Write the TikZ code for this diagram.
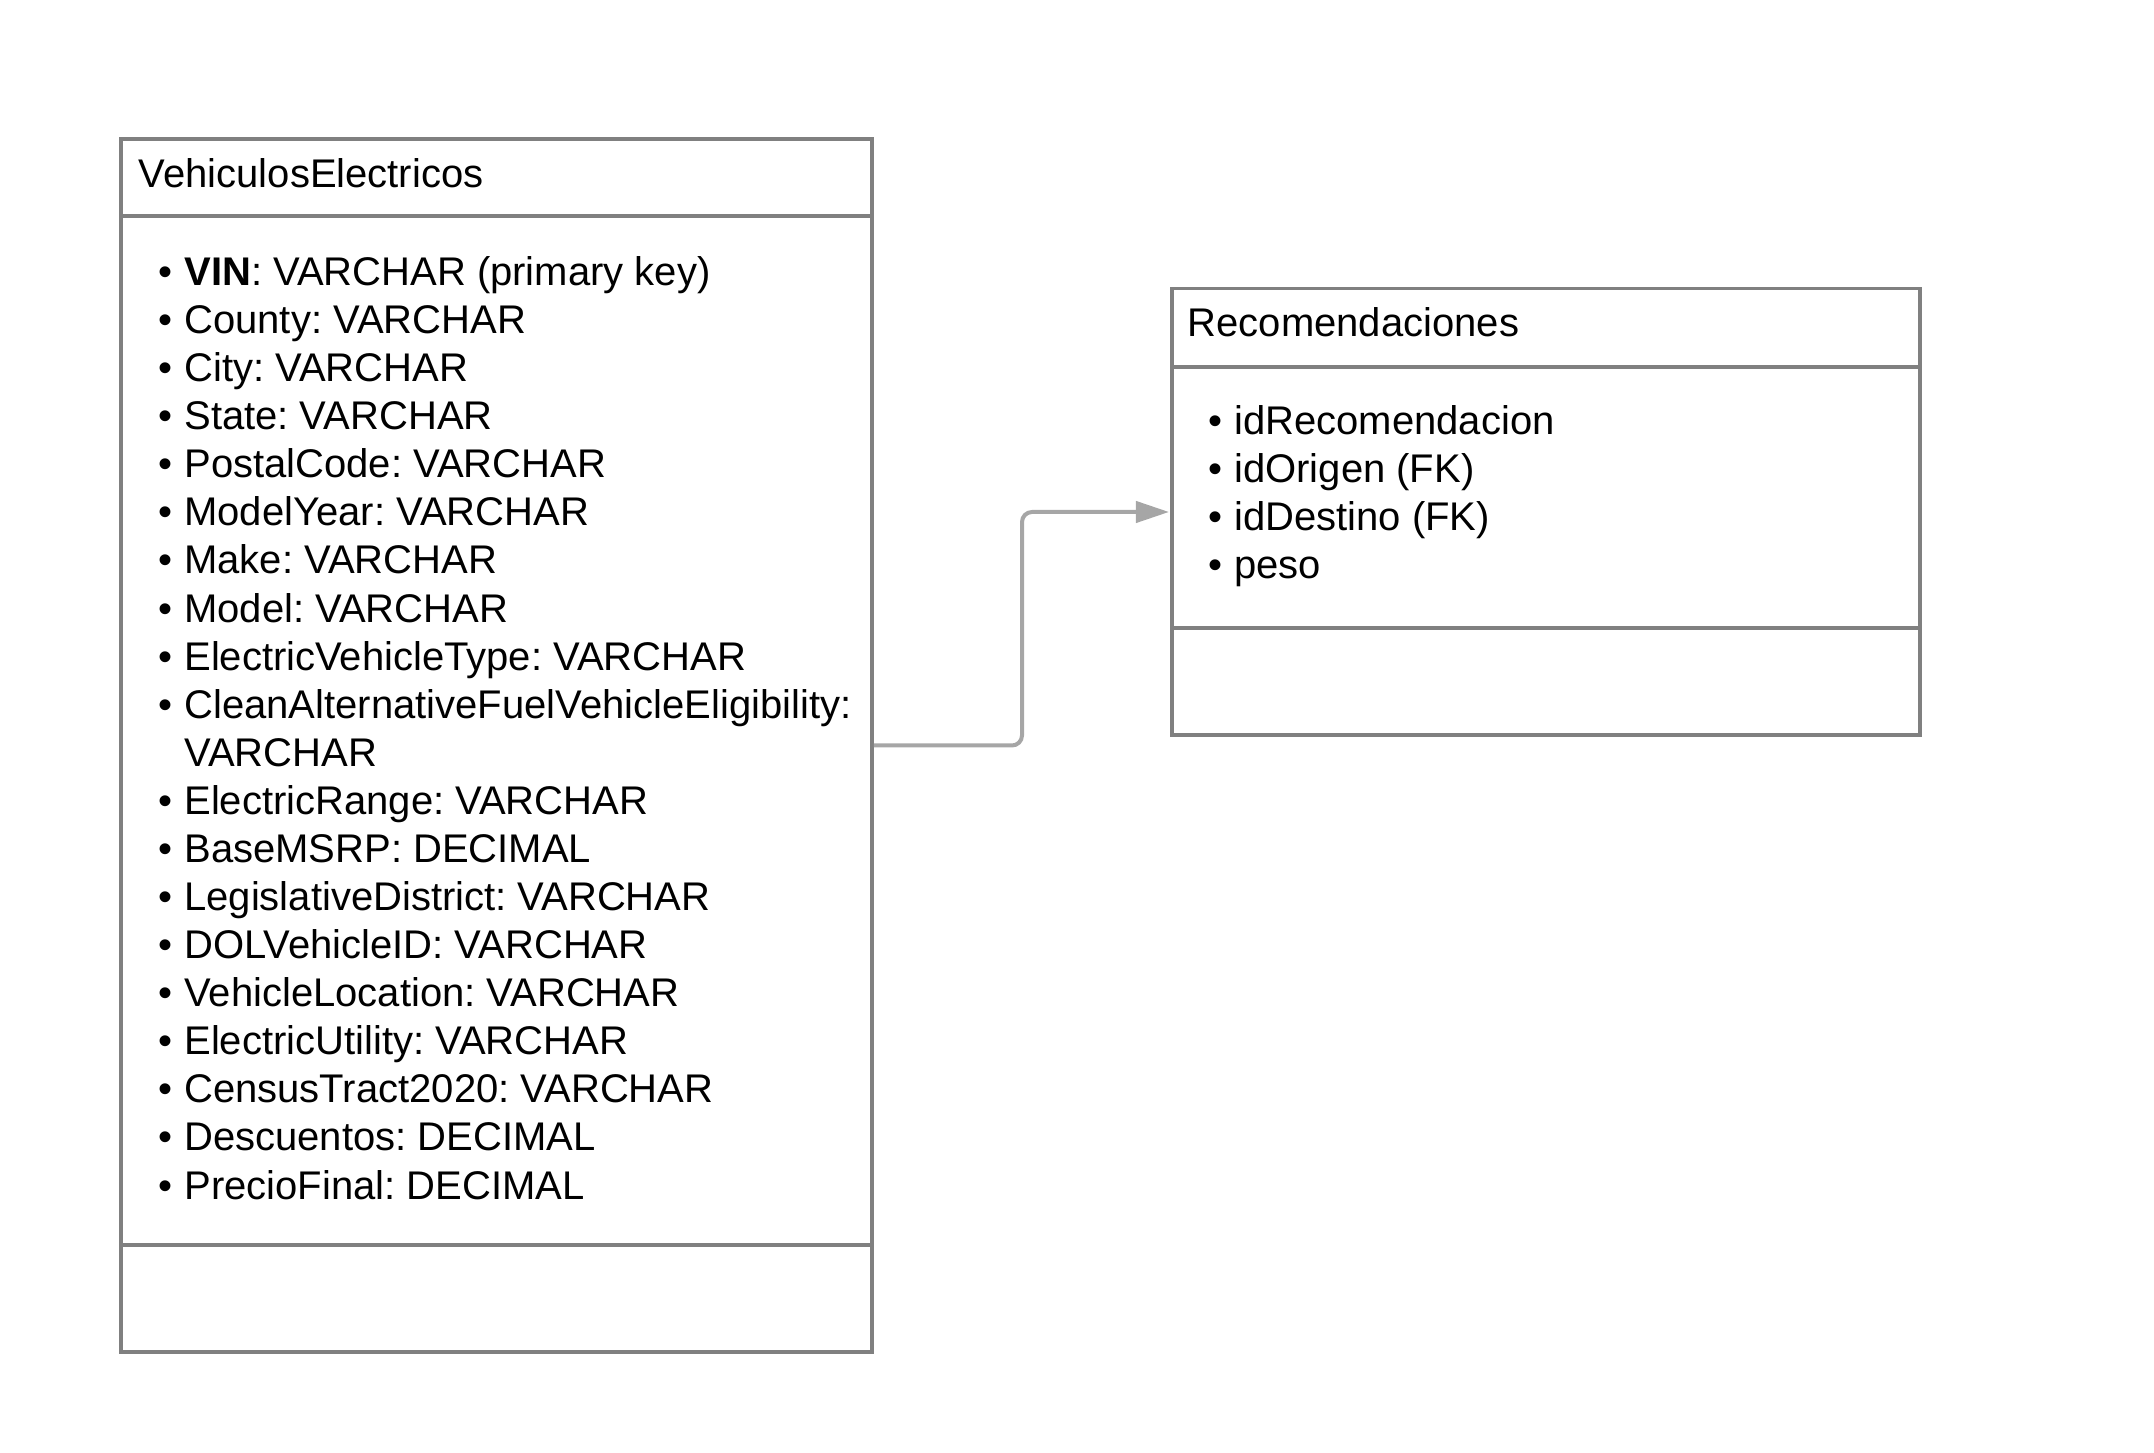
\documentclass[tikz,border=0pt]{standalone}
\usepackage{fontspec}
\setmainfont{Liberation Sans}
\usetikzlibrary{arrows.meta}
\frenchspacing
\def\pxu{0.25pt}
\definecolor{boxgray}{HTML}{808080}
\definecolor{conngray}{HTML}{A6A6A6}
\tikzset{
  tablebox/.style={draw=boxgray, line width=0.9pt, inner sep=0pt, fill=white},
  divider/.style={draw=boxgray, line width=0.9pt},
  titletext/.style={anchor=base west, inner sep=0pt, font=\fontsize{10}{12.02}\selectfont},
  itemtext/.style={anchor=base west, inner sep=0pt, font=\fontsize{10}{12.02}\selectfont},
  conn/.style={draw=conngray, line width=1pt, rounded corners=2.5pt,
    -{Triangle[length=8.3pt,width=5.3pt,fill=conngray]}}
}
\begin{document}
\begin{tikzpicture}[x=\pxu, y=-\pxu]
\useasboundingbox (0,0) rectangle (2154,1453);
% left table
\node[tablebox, minimum width=751*\pxu, minimum height=1213*\pxu] (ve) at (496.5,745.5) {};
\draw[divider] (121,216) -- (872,216);
\draw[divider] (121,1245) -- (872,1245);
\node[titletext] (vetitle) at (138,188) {VehiculosElectricos};
\node[itemtext] (veitems) at (158,285.5) {%
\begin{tabular}[t]{@{}l@{\hspace{2.9pt}}l@{}}
• & \textbf{VIN}: VARCHAR (primary key)\\
• & County: VARCHAR\\
• & City: VARCHAR\\
• & State: VARCHAR\\
• & PostalCode: VARCHAR\\
• & ModelYear: VARCHAR\\
• & Make: VARCHAR\\
• & Model: VARCHAR\\
• & ElectricVehicleType: VARCHAR\\
• & CleanAlternativeFuelVehicleEligibility:\\
  & VARCHAR\\
• & ElectricRange: VARCHAR\\
• & BaseMSRP: DECIMAL\\
• & LegislativeDistrict: VARCHAR\\
• & DOLVehicleID: VARCHAR\\
• & VehicleLocation: VARCHAR\\
• & ElectricUtility: VARCHAR\\
• & CensusTract2020: VARCHAR\\
• & Descuentos: DECIMAL\\
• & PrecioFinal: DECIMAL
\end{tabular}};
% right table
\node[tablebox, minimum width=748*\pxu, minimum height=446.5*\pxu] (rc) at (1546,511.75) {};
\draw[divider] (1172,367) -- (1920,367);
\draw[divider] (1172,628) -- (1920,628);
\node[titletext] (rctitle) at (1187,337) {Recomendaciones};
\node[itemtext] (rcitems) at (1208,434.5) {%
\begin{tabular}[t]{@{}l@{\hspace{2.9pt}}l@{}}
• & idRecomendacion\\
• & idOrigen (FK)\\
• & idDestino (FK)\\
• & peso
\end{tabular}};
% connector
\coordinate (bendx) at (1022,0);
\coordinate (tip) at (1169,512);
\draw[conn] (ve.east) -| (bendx |- tip) -- (tip);
\end{tikzpicture}
\end{document}
